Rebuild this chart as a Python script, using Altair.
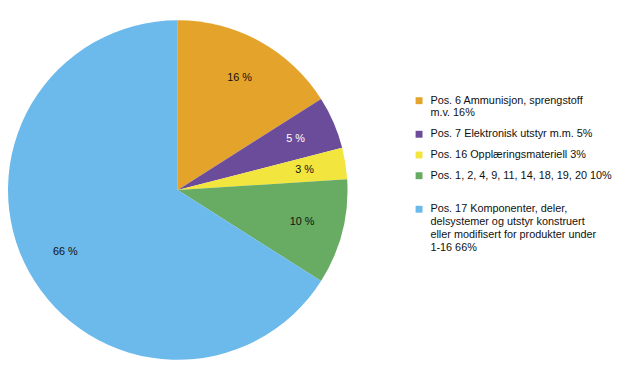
import altair as alt
import pandas as pd

categories = [
    "Pos. 6 Ammunisjon, sprengstoff|m.v. 16%",
    "Pos. 7 Elektronisk utstyr m.m. 5%",
    "Pos. 16 Opplæringsmateriell 3%",
    "Pos. 1, 2, 4, 9, 11, 14, 18, 19, 20 10%| ",
    "Pos. 17 Komponenter, deler,|delsystemer og utstyr konstruert|eller modifisert for produkter under|1-16 66%",
]
values = [16, 5, 3, 10, 66]
slice_labels = ["16 %", "5 %", "3 %", "10 %", "66 %"]
colors = ["#E4A42B", "#6B4C9A", "#F2E53D", "#68AB63", "#6CB9EB"]
label_colors = ["#111111", "#FFFFFF", "#111111", "#111111", "#111111"]

df = pd.DataFrame({
    "cat": categories,
    "val": values,
    "lab": slice_labels,
    "order": list(range(len(values))),
    "lc": label_colors,
})

cx, cy, R = 172, 182, 172

base = alt.Chart(df).encode(
    theta=alt.Theta("val:Q", stack=True),
    order=alt.Order("order:Q"),
)

pie = base.mark_arc(outerRadius=R, stroke=None).encode(
    x=alt.value(cx),
    y=alt.value(cy),
    color=alt.Color(
        "cat:N",
        scale=alt.Scale(domain=categories, range=colors),
        sort=categories,
        legend=alt.Legend(
            title=None,
            orient="none",
            legendX=411,
            legendY=86,
            padding=0,
            symbolType="square",
            symbolSize=49,
            symbolStrokeWidth=0,
            labelFont="Liberation Sans",
            labelFontSize=11,
            labelColor="#111111",
            labelLimit=300,
            labelExpr="split(datum.value, '|')",
            rowPadding=9,
            labelOffset=6,
        ),
    ),
)

text = base.mark_text(radius=130, font="Liberation Sans", fontSize=11).encode(
    x=alt.value(cx),
    y=alt.value(cy),
    text="lab:N",
    color=alt.Color("lc:N", scale=None),
)

chart = (pie + text).properties(
    width=612,
    height=366,
    padding=0,
    autosize=alt.AutoSizeParams(type="none"),
).configure_view(stroke=None)

chart.save("out.html", embed_options={"renderer": "svg", "actions": False})
